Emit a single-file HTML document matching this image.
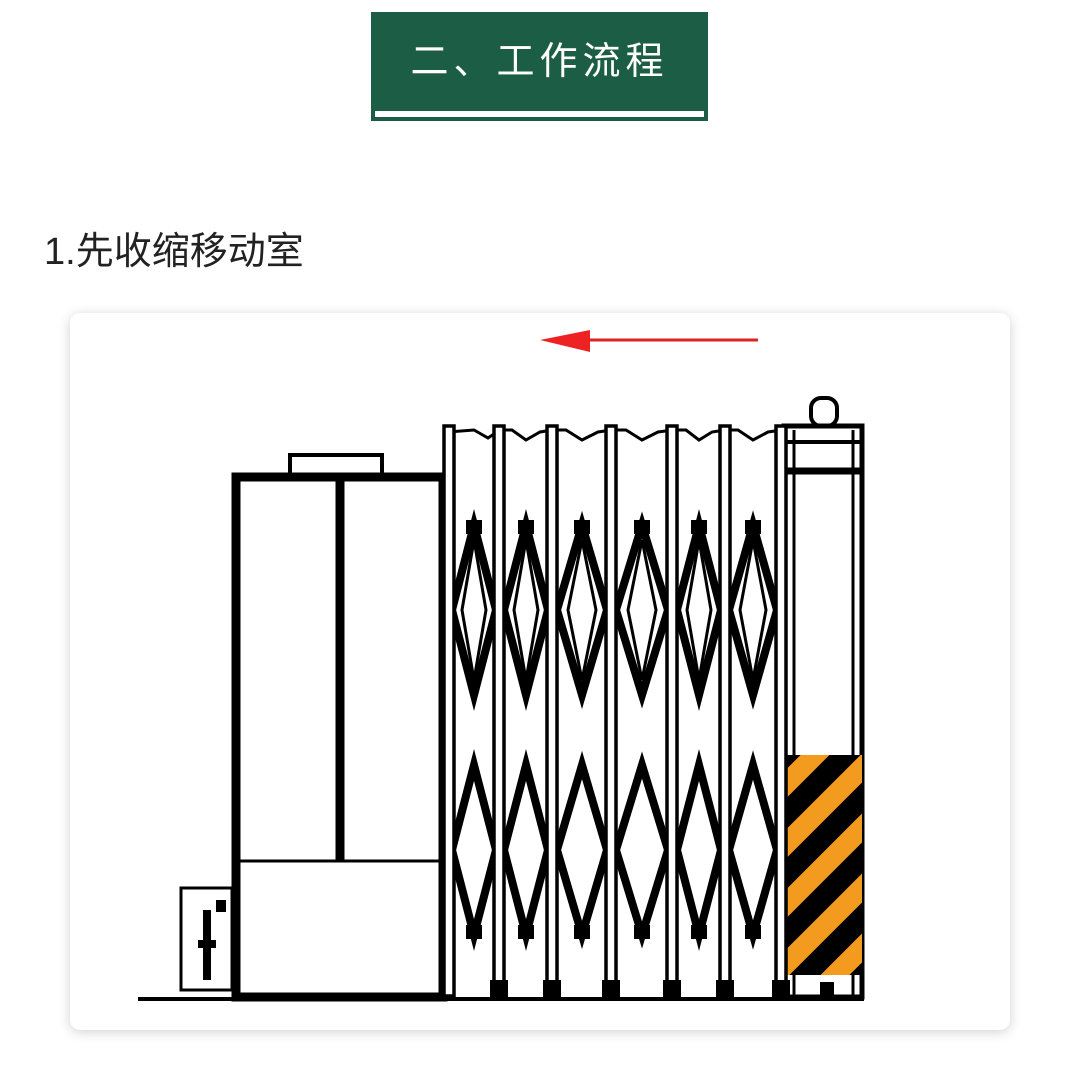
<!DOCTYPE html>
<html><head><meta charset="utf-8"><style>
body{margin:0;width:1080px;height:1083px;background:#fff;position:relative;overflow:hidden;font-family:"Liberation Sans","Noto Sans CJK SC",sans-serif}
.t{position:absolute;left:371px;top:12px;width:337px;height:109px;background:#1b5e45}
.t .s{position:absolute;left:4px;right:4px;top:99px;height:6px;background:#fff}
.t .x{position:absolute;left:0;right:0;top:28px;text-align:center;color:#fff;font-size:38px;letter-spacing:5px;line-height:44px}
.h{position:absolute;left:44px;top:228px;font-size:38px;color:#222;line-height:48px}
.card{position:absolute;left:70px;top:313px;width:940px;height:717px;background:#fff;border-radius:10px;box-shadow:0 2px 12px rgba(0,0,0,.18)}
svg{position:absolute;left:0;top:0}
</style></head><body>
<div class="t"><div class="x">二、工作流程</div><div class="s"></div></div>
<div class="h">1.先收缩移动室</div>
<div class="card"></div>
<svg width="1080" height="1083">
<defs><clipPath id="hz"><rect x="777" y="755" width="85" height="220"/></clipPath></defs>
<line x1="570" y1="340" x2="758" y2="340" stroke="#d22" stroke-width="3"/>
<polygon points="540,340 590,330 590,352" fill="#e22"/>
<line x1="138" y1="999" x2="864" y2="999" stroke="#000" stroke-width="4"/>
<rect x="290" y="455" width="92" height="20" fill="#fff" stroke="#000" stroke-width="4"/>
<rect x="236" y="477" width="207" height="520" fill="#fff" stroke="#000" stroke-width="9"/>
<line x1="340" y1="477" x2="340" y2="860" stroke="#000" stroke-width="9"/>
<line x1="236" y1="861" x2="443" y2="861" stroke="#000" stroke-width="3"/>
<rect x="181" y="888" width="51" height="102" fill="#fff" stroke="#000" stroke-width="3"/>
<rect x="203" y="910" width="8" height="70" fill="#000"/>
<rect x="198" y="940" width="18" height="8" fill="#000"/>
<rect x="216" y="900" width="10" height="12" fill="#000"/>
<rect x="811" y="398" width="26" height="28" rx="10" fill="#fff" stroke="#000" stroke-width="4"/>
<rect x="784" y="426" width="78" height="571" fill="#fff" stroke="#000" stroke-width="5"/>
<line x1="794" y1="430" x2="794" y2="995" stroke="#000" stroke-width="3"/>
<line x1="853" y1="430" x2="853" y2="995" stroke="#000" stroke-width="3"/>
<line x1="784" y1="442" x2="862" y2="442" stroke="#000" stroke-width="4"/>
<line x1="784" y1="471" x2="862" y2="471" stroke="#000" stroke-width="7"/>
<rect x="777" y="755" width="85" height="220" fill="#f39b1f"/>
<g clip-path="url(#hz)" stroke="#000" stroke-width="22">
<line x1="740" y1="800" x2="900" y2="640"/>
<line x1="740" y1="860" x2="900" y2="700"/>
<line x1="740" y1="920" x2="900" y2="760"/>
<line x1="740" y1="980" x2="900" y2="820"/>
<line x1="740" y1="1040" x2="900" y2="880"/>
<line x1="740" y1="1100" x2="900" y2="940"/>
</g>
<polyline points="448,432 474,430 488,438 500,430 512,430 526,440 540,432 553,430 566,430 582,440 598,432 612,430 626,430 642,440 658,432 673,430 686,430 699,440 712,432 725,430 738,430 753,440 768,432 782,430" fill="none" stroke="#000" stroke-width="3"/>
<g fill="none" stroke="#000" stroke-width="8">
<path d="M474,525 L452,610 L474,695 L496,610 Z M474,765 L452,850 L474,935 L496,850 Z"/>
<path d="M526,525 L504,610 L526,695 L548,610 Z M526,765 L504,850 L526,935 L548,850 Z"/>
<path d="M582,525 L557,610 L582,695 L607,610 Z M582,765 L557,850 L582,935 L607,850 Z"/>
<path d="M642,525 L616,610 L642,695 L668,610 Z M642,765 L616,850 L642,935 L668,850 Z"/>
<path d="M699,525 L677,610 L699,695 L721,610 Z M699,765 L677,850 L699,935 L721,850 Z"/>
<path d="M753,525 L729,610 L753,695 L777,610 Z M753,765 L729,850 L753,935 L777,850 Z"/>
</g>
<g fill="none" stroke="#000" stroke-width="3">
<path d="M474,540 L462,610 L474,680 L486,610 Z"/>
<path d="M526,540 L514,610 L526,680 L538,610 Z"/>
<path d="M582,540 L568,610 L582,680 L596,610 Z"/>
<path d="M642,540 L628,610 L642,680 L656,610 Z"/>
<path d="M699,540 L687,610 L699,680 L711,610 Z"/>
<path d="M753,540 L740,610 L753,680 L766,610 Z"/>
</g>
<g fill="#000">
<rect x="466" y="520" width="16" height="14"/><rect x="518" y="520" width="16" height="14"/><rect x="574" y="520" width="16" height="14"/><rect x="634" y="520" width="16" height="14"/><rect x="691" y="520" width="16" height="14"/><rect x="745" y="520" width="16" height="14"/>
<rect x="466" y="925" width="16" height="14"/><rect x="518" y="925" width="16" height="14"/><rect x="574" y="925" width="16" height="14"/><rect x="634" y="925" width="16" height="14"/><rect x="691" y="925" width="16" height="14"/><rect x="745" y="925" width="16" height="14"/>
</g>
<g fill="#fff" stroke="#000" stroke-width="3.5">
<rect x="444" y="426" width="10" height="570"/>
<rect x="494" y="426" width="10" height="570"/>
<rect x="547" y="426" width="10" height="570"/>
<rect x="606" y="426" width="10" height="570"/>
<rect x="667" y="426" width="10" height="570"/>
<rect x="720" y="426" width="10" height="570"/>
<rect x="776" y="426" width="10" height="570"/>
</g>
<g fill="#000">
<rect x="490" y="980" width="18" height="18"/><rect x="543" y="980" width="18" height="18"/><rect x="602" y="980" width="18" height="18"/><rect x="663" y="980" width="18" height="18"/><rect x="716" y="980" width="18" height="18"/><rect x="772" y="980" width="18" height="18"/><rect x="820" y="982" width="14" height="16"/>
</g>
</svg>
</body></html>
